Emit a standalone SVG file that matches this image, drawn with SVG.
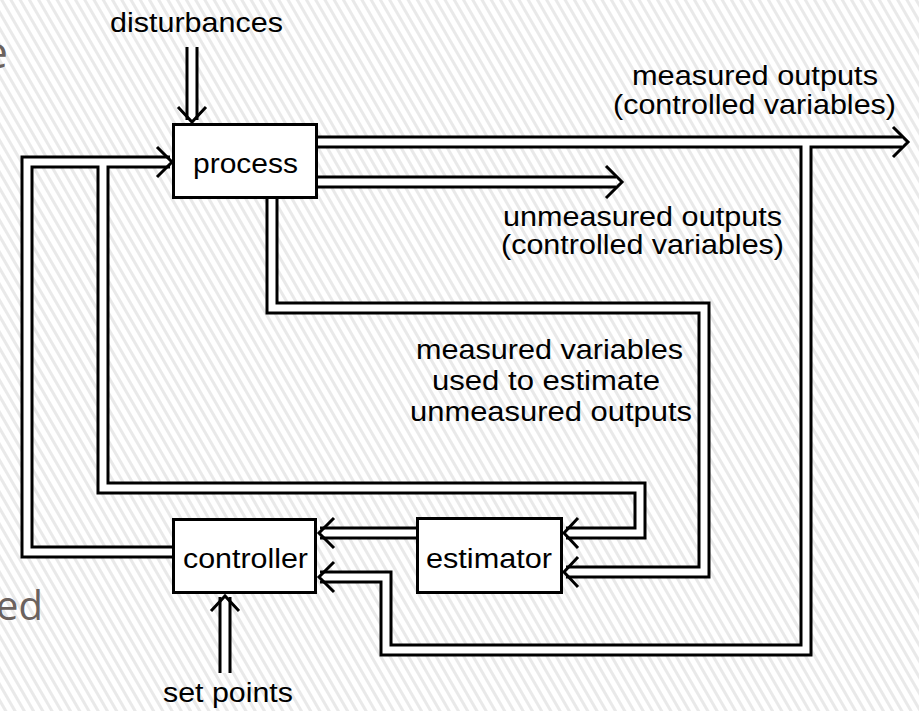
<svg xmlns="http://www.w3.org/2000/svg" width="919" height="711" viewBox="0 0 919 711">
<defs>
<pattern id="hatch" patternUnits="userSpaceOnUse" width="8" height="8" patternTransform="rotate(-30)">
<rect x="0" y="0" width="3" height="8" fill="#e9e9e9"/>
</pattern>
<style>
.lbl{font-family:"Liberation Sans",Arial,sans-serif;font-size:27.5px;fill:#000}
.bg{font-family:"Open Sans","Noto Sans",sans-serif;fill:#6b625e}
.box{fill:#fff;stroke:#000;stroke-width:3}
.blk{fill:none;stroke:#000;stroke-width:13;stroke-linejoin:miter;stroke-linecap:butt}
.wht{fill:none;stroke:#fff;stroke-width:7;stroke-linejoin:miter;stroke-linecap:butt}
.head{fill:none;stroke:#000;stroke-width:3;stroke-linejoin:miter;stroke-linecap:butt}
</style>
</defs>
<rect width="919" height="711" fill="#fff"/>
<rect width="919" height="711" fill="url(#hatch)"/>
<text class="bg" x="8" y="68" font-size="44" text-anchor="end">e</text>
<text class="bg" x="43" y="620" font-size="40" text-anchor="end">ed</text>

<g id="connectors">
<g id="conn-black">
<path class="blk" d="M192,47 V120"/>
<path class="blk" d="M225,673 V597"/>
<path class="blk" d="M300,142 H902"/>
<path class="blk" d="M300,182 H616"/>
<path class="blk" d="M180,552 H27 V162 H170"/>
<path class="blk" d="M103,162 V488 H640 V533 H566"/>
<path class="blk" d="M430,533 H320"/>
<path class="blk" d="M806,142 V650 H386 V577 H320"/>
<path class="blk" d="M272,190 V308 H704 V572 H566"/>
</g>
<g id="conn-white">
<path class="wht" d="M192,47 V120"/>
<path class="wht" d="M225,673 V597"/>
<path class="wht" d="M300,142 H902"/>
<path class="wht" d="M300,182 H616"/>
<path class="wht" d="M180,552 H27 V162 H170"/>
<path class="wht" d="M103,162 V488 H640 V533 H566"/>
<path class="wht" d="M430,533 H320"/>
<path class="wht" d="M806,142 V650 H386 V577 H320"/>
<path class="wht" d="M272,190 V308 H704 V572 H566"/>
</g>
</g>

<g id="process">
<rect class="box" x="173.5" y="124.5" width="143" height="73"/>
<text class="lbl" x="193" y="173" textLength="105" lengthAdjust="spacingAndGlyphs">process</text>
</g>
<g id="controller">
<rect class="box" x="173.5" y="519.5" width="142" height="73"/>
<text class="lbl" x="183" y="568" textLength="125" lengthAdjust="spacingAndGlyphs">controller</text>
</g>
<g id="estimator">
<rect class="box" x="417.5" y="518.5" width="144" height="74"/>
<text class="lbl" x="426" y="568" textLength="126" lengthAdjust="spacingAndGlyphs">estimator</text>
</g>

<g id="arrowheads">
<path class="head" d="M178,107 L192,122 L206,107"/>
<path class="head" d="M211,611 L225,596 L239,611"/>
<path class="head" d="M893,127 L908,142 L893,157"/>
<path class="head" d="M606,166 L622,182 L606,198"/>
<path class="head" d="M157,147 L172,162 L157,177"/>
<path class="head" d="M334,518 L319,533 L334,548"/>
<path class="head" d="M334,562 L319,577 L334,592"/>
<path class="head" d="M578,518 L564,533 L578,548"/>
<path class="head" d="M578,557 L564,572 L578,587"/>
</g>

<g id="labels">
<text class="lbl" x="110" y="32" textLength="173" lengthAdjust="spacingAndGlyphs">disturbances</text>
<text class="lbl" x="632" y="85" textLength="246" lengthAdjust="spacingAndGlyphs">measured outputs</text>
<text class="lbl" x="613" y="114" textLength="283" lengthAdjust="spacingAndGlyphs">(controlled variables)</text>
<text class="lbl" x="503" y="226" textLength="279" lengthAdjust="spacingAndGlyphs">unmeasured outputs</text>
<text class="lbl" x="501" y="254" textLength="283" lengthAdjust="spacingAndGlyphs">(controlled variables)</text>
<text class="lbl" x="416" y="359" textLength="267" lengthAdjust="spacingAndGlyphs">measured variables</text>
<text class="lbl" x="432" y="390" textLength="228" lengthAdjust="spacingAndGlyphs">used to estimate</text>
<text class="lbl" x="410" y="421" textLength="282" lengthAdjust="spacingAndGlyphs">unmeasured outputs</text>
<text class="lbl" x="163" y="702" textLength="130" lengthAdjust="spacingAndGlyphs">set points</text>
</g>
</svg>
